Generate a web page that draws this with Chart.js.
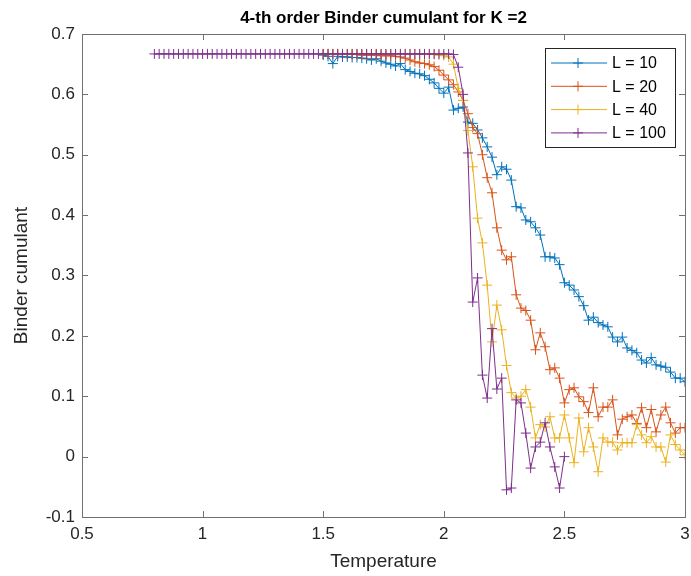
<!DOCTYPE html>
<html>
<head>
<meta charset="utf-8">
<script src="https://cdn.jsdelivr.net/npm/chart.js@4.4.1/dist/chart.umd.min.js"></script>
<style>
  html, body { margin: 0; padding: 0; background: #fff; }
  #wrap { width: 691px; height: 576px; position: relative; }
</style>
</head>
<body>
<div id="wrap"><canvas id="grafico"></canvas></div>
<script>
// temperaturas (paso 0.02)
const temps = [
  0.80, 0.82, 0.84, 0.86, 0.88, 0.90, 0.92, 0.94, 0.96, 0.98,
  1.00, 1.02, 1.04, 1.06, 1.08, 1.10, 1.12, 1.14, 1.16, 1.18,
  1.20, 1.22, 1.24, 1.26, 1.28, 1.30, 1.32, 1.34, 1.36, 1.38,
  1.40, 1.42, 1.44, 1.46, 1.48, 1.50, 1.52, 1.54, 1.56, 1.58,
  1.60, 1.62, 1.64, 1.66, 1.68, 1.70, 1.72, 1.74, 1.76, 1.78,
  1.80, 1.82, 1.84, 1.86, 1.88, 1.90, 1.92, 1.94, 1.96, 1.98,
  2.00, 2.02, 2.04, 2.06, 2.08, 2.10, 2.12, 2.14, 2.16, 2.18,
  2.20, 2.22, 2.24, 2.26, 2.28, 2.30, 2.32, 2.34, 2.36, 2.38,
  2.40, 2.42, 2.44, 2.46, 2.48, 2.50, 2.52, 2.54, 2.56, 2.58,
  2.60, 2.62, 2.64, 2.66, 2.68, 2.70, 2.72, 2.74, 2.76, 2.78,
  2.80, 2.82, 2.84, 2.86, 2.88, 2.90, 2.92, 2.94, 2.96, 2.98,
  3.00
]

const etiquetas = ['L = 10', 'L = 20', 'L = 40', 'L = 100']
const colores = ['#0072BD', '#D95319', '#EDB120', '#7E2F8E']
const inicios = [1.50, 1.50, 1.50, 0.80]

// L = 10, desde T = 1.50
const binderL10 = [
  0.665, 0.663, 0.651, 0.663, 0.662, 0.662, 0.661, 0.661, 0.660, 0.659,
  0.657, 0.659, 0.655, 0.652, 0.650, 0.647, 0.651, 0.641, 0.638, 0.635,
  0.634, 0.631, 0.625, 0.619, 0.610, 0.602, 0.612, 0.574, 0.577, 0.579,
  0.554, 0.552, 0.541, 0.528, 0.513, 0.496, 0.467, 0.480, 0.476, 0.458,
  0.414, 0.412, 0.392, 0.389, 0.379, 0.367, 0.331, 0.331, 0.329, 0.318,
  0.288, 0.284, 0.276, 0.265, 0.250, 0.226, 0.231, 0.222, 0.218, 0.215,
  0.198, 0.190, 0.198, 0.180, 0.176, 0.172, 0.160, 0.155, 0.164, 0.152,
  0.150, 0.148, 0.140, 0.130, 0.130, 0.124
]

// L = 20, desde T = 1.50
const binderL20 = [
  0.667, 0.667, 0.667, 0.667, 0.666, 0.666, 0.666, 0.666, 0.665, 0.665,
  0.665, 0.665, 0.664, 0.664, 0.664, 0.663, 0.662, 0.660, 0.657, 0.654,
  0.652, 0.651, 0.649, 0.646, 0.640, 0.632, 0.624, 0.616, 0.604, 0.590,
  0.568, 0.545, 0.535, 0.500, 0.462, 0.437, 0.379, 0.342, 0.326, 0.331,
  0.268, 0.246, 0.242, 0.226, 0.177, 0.205, 0.182, 0.144, 0.147, 0.130,
  0.089, 0.111, 0.114, 0.099, 0.091, 0.073, 0.114, 0.066, 0.082, 0.082,
  0.094, 0.036, 0.062, 0.066, 0.069, 0.055, 0.081, 0.048, 0.078, 0.041,
  0.069, 0.082, 0.056, 0.039, 0.048, 0.048
]

// L = 40, desde T = 1.50
const binderL40 = [
  0.667, 0.667, 0.667, 0.667, 0.667, 0.667, 0.667, 0.667, 0.667, 0.667,
  0.667, 0.667, 0.667, 0.667, 0.667, 0.667, 0.667, 0.667, 0.667, 0.667,
  0.667, 0.666, 0.666, 0.666, 0.665, 0.664, 0.662, 0.650, 0.610, 0.590,
  0.540, 0.480, 0.395, 0.354, 0.284, 0.190, 0.251, 0.210, 0.151, 0.106,
  0.097, 0.100, 0.111, 0.082, 0.031, 0.053, 0.049, 0.066, 0.031, 0.031,
  0.069, 0.031, -0.010, 0.064, 0.008, 0.048, 0.016, -0.025, 0.031, 0.024,
  0.024, 0.011, 0.023, 0.023, 0.023, 0.053, 0.036, 0.023, 0.033, 0.016,
  0.016, -0.009, 0.036, 0.020, 0.011, 0.003
]

// L = 100, desde T = 0.80 hasta 2.50
const binderL100 = [
  0.667, 0.667, 0.667, 0.667, 0.667, 0.667, 0.667, 0.667, 0.667, 0.667,
  0.667, 0.667, 0.667, 0.667, 0.667, 0.667, 0.667, 0.667, 0.667, 0.667,
  0.667, 0.667, 0.667, 0.667, 0.667, 0.667, 0.667, 0.667, 0.667, 0.667,
  0.667, 0.667, 0.667, 0.667, 0.667, 0.667, 0.667, 0.667, 0.667, 0.667,
  0.667, 0.667, 0.667, 0.667, 0.667, 0.667, 0.667, 0.667, 0.667, 0.667,
  0.667, 0.667, 0.667, 0.667, 0.667, 0.667, 0.667, 0.667, 0.667, 0.667,
  0.667, 0.667, 0.666, 0.645, 0.600, 0.503, 0.256, 0.296, 0.135, 0.097,
  0.212, 0.112, 0.130, -0.055, -0.052, 0.094, 0.089, 0.039, -0.019, 0.016,
  0.024, 0.056, 0.016, -0.017, -0.052, 0.000
]

const xTicks = [0.5, 1, 1.5, 2, 2.5, 3]
const yTicks = [-0.1, 0, 0.1, 0.2, 0.3, 0.4, 0.5, 0.6, 0.7]
const titulo = '4-th order Binder cumulant for K =2'

const series = [binderL10, binderL20, binderL40, binderL100]

function aPuntos(inicio, valores) {
  const i0 = temps.findIndex(t => Math.abs(t - inicio) < 1e-9)
  return valores.map((v, i) => ({ x: temps[i0 + i], y: v }))
}

const fuente = "'Liberation Sans', Arial, Helvetica, sans-serif"
Chart.defaults.font.family = fuente
Chart.defaults.color = '#262626'

// fondo blanco
const fondo = {
  id: 'fondo',
  beforeDraw(chart) {
    const c = chart.ctx
    c.save()
    c.fillStyle = '#fff'
    c.fillRect(0, 0, chart.width, chart.height)
    c.restore()
  }
}

// titulo centrado sobre el area del grafico (como matlab)
const tituloEje = {
  id: 'tituloEje',
  afterDraw(chart) {
    const c = chart.ctx
    const a = chart.chartArea
    c.save()
    c.fillStyle = '#000'
    c.font = 'bold 17px ' + fuente
    c.textAlign = 'center'
    c.textBaseline = 'middle'
    c.fillText(titulo, (a.left + a.right) / 2, 18)
    c.restore()
  }
}

// caja estilo matlab con marcas hacia dentro
const caja = {
  id: 'caja',
  afterDatasetsDraw(chart) {
    const c = chart.ctx
    const a = chart.chartArea
    const sx = chart.scales.x
    const sy = chart.scales.y
    const largo = 6
    c.save()
    c.strokeStyle = '#707070'
    c.lineWidth = 1
    c.beginPath()
    sx.ticks.forEach(t => {
      const px = Math.round(sx.getPixelForValue(t.value)) + 0.5
      c.moveTo(px, a.bottom); c.lineTo(px, a.bottom - largo)
      c.moveTo(px, a.top); c.lineTo(px, a.top + largo)
    })
    sy.ticks.forEach(t => {
      const py = Math.round(sy.getPixelForValue(t.value)) + 0.5
      c.moveTo(a.left, py); c.lineTo(a.left + largo, py)
      c.moveTo(a.right, py); c.lineTo(a.right - largo, py)
    })
    c.stroke()
    c.strokeRect(Math.round(a.left) + 0.5, Math.round(a.top) + 0.5,
      Math.round(a.right - a.left), Math.round(a.bottom - a.top))
    c.restore()
  }
}

// leyenda dibujada a mano
const leyenda = {
  id: 'leyenda',
  afterDraw(chart) {
    const c = chart.ctx
    const bx = 545.5, by = 48.5, bw = 130, bh = 99
    c.save()
    c.fillStyle = '#fff'
    c.fillRect(bx, by, bw, bh)
    c.strokeStyle = '#262626'
    c.lineWidth = 1
    c.strokeRect(bx, by, bw, bh)
    c.font = '16px ' + fuente
    c.textBaseline = 'middle'
    etiquetas.forEach((txt, i) => {
      const y = 63 + i * 23.3
      c.strokeStyle = colores[i]
      c.beginPath()
      c.moveTo(551, y); c.lineTo(607, y)
      c.moveTo(578 - 5, y); c.lineTo(578 + 5, y)
      c.moveTo(578, y - 5); c.lineTo(578, y + 5)
      c.stroke()
      c.fillStyle = '#000'
      c.fillText(txt, 612, y + 1)
    })
    c.restore()
  }
}

const datasets = series.map((vals, i) => ({
  label: etiquetas[i],
  data: aPuntos(inicios[i], vals),
  showLine: true,
  borderColor: colores[i],
  backgroundColor: colores[i],
  borderWidth: 1,
  pointStyle: 'cross',
  pointRadius: 5,
  pointHoverRadius: 5,
  pointBorderWidth: 1,
  pointBorderColor: colores[i],
  tension: 0,
  fill: false,
  order: 4 - i
}))

new Chart(document.getElementById('grafico'), {
  type: 'scatter',
  data: { datasets },
  options: {
    responsive: true,
    maintainAspectRatio: false,
    animation: false,
    events: [],
    layout: { padding: { left: 0, right: 3, top: 34, bottom: 0 } },
    plugins: {
      legend: { display: false },
      tooltip: { enabled: false },
      title: { display: false }
    },
    scales: {
      x: {
        type: 'linear',
        min: 0.5,
        max: 3,
        afterBuildTicks: s => { s.ticks = xTicks.map(v => ({ value: v })) },
        afterFit: s => { s.height = 59; s.paddingLeft = 0; s.paddingRight = 0 },
        grid: { display: false, drawTicks: false },
        border: { display: false },
        ticks: {
          padding: 7,
          maxRotation: 0,
          color: '#262626',
          font: { size: 17 },
          callback: v => String(v)
        },
        title: {
          display: true,
          text: 'Temperature',
          color: '#262626',
          font: { size: 19 },
          padding: { top: 0, bottom: 3 }
        }
      },
      y: {
        type: 'linear',
        min: -0.1,
        max: 0.7,
        afterBuildTicks: s => { s.ticks = yTicks.map(v => ({ value: v })) },
        afterFit: s => { s.width = 82; s.paddingTop = 0; s.paddingBottom = 0 },
        grid: { display: false, drawTicks: false },
        border: { display: false },
        ticks: {
          padding: 7,
          color: '#262626',
          font: { size: 17 },
          callback: v => String(Math.round(v * 10) / 10)
        },
        title: {
          display: true,
          text: 'Binder cumulant',
          color: '#262626',
          font: { size: 19 },
          padding: { top: 10, bottom: 0 }
        }
      }
    }
  },
  plugins: [fondo, caja, leyenda, tituloEje]
})
</script>
</body>
</html>
